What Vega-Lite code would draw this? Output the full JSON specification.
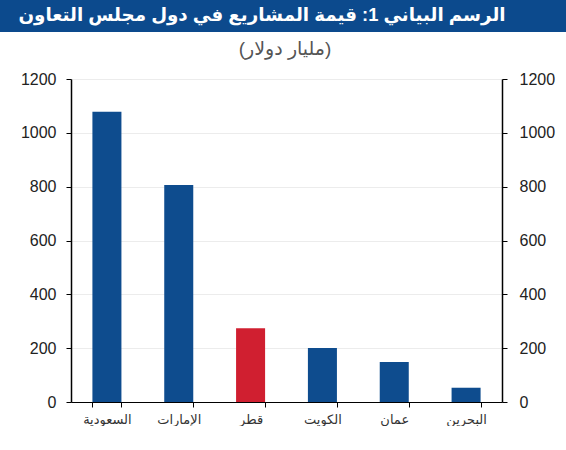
{
  "$schema": "https://vega.github.io/schema/vega-lite/v6.json",
  "padding": 0,
  "spacing": 8,
  "background": "white",
  "config": {
    "view": {"stroke": null},
    "font": "Liberation Sans, DejaVu Sans",
    "axis": {"labelFont": "Liberation Sans, DejaVu Sans"}
  },
  "vconcat": [
    {
      "width": 566,
      "height": 32,
      "view": {"fill": "#0c4a8d", "stroke": null},
      "data": {"values": [{"t": "الرسم البياني 1: قيمة المشاريع في دول مجلس التعاون"}]},
      "mark": {"type": "text", "color": "white", "fontSize": 18.3, "fontWeight": "bold", "baseline": "middle", "dx": -21},
      "encoding": {"text": {"field": "t"}}
    },
    {
      "width": 502,
      "height": 323,
      "title": {"text": "(مليار دولار)", "fontSize": 19, "fontWeight": "normal", "color": "#555555", "offset": 12, "dx": 34},
      "data": {
        "values": [
          {"country": "السعودية", "value": 1078},
          {"country": "الإمارات", "value": 806},
          {"country": "قطر", "value": 274},
          {"country": "الكويت", "value": 201},
          {"country": "عمان", "value": 149},
          {"country": "البحرين", "value": 53}
        ]
      },
      "encoding": {
        "x": {
          "field": "country",
          "type": "nominal",
          "sort": null,
          "scale": {"range": [71, 502], "paddingInner": 0.596, "paddingOuter": 0.298},
          "axis": {
            "title": null,
            "labelAngle": 0,
            "labelFontSize": 13,
            "labelColor": "#333333",
            "labelPadding": 6,
            "tickBand": "extent",
            "tickSize": 5,
            "tickColor": "#000000",
            "domainColor": "#000000",
            "grid": false
          }
        },
        "y": {
          "field": "value",
          "type": "quantitative",
          "scale": {"domain": [0, 1200], "nice": false}
        }
      },
      "layer": [
        {
          "mark": {"type": "bar"},
          "encoding": {
            "y": {
              "field": "value",
              "type": "quantitative",
              "axis": {
                "orient": "left",
                "offset": -71,
                "title": null,
                "format": "d",
                "values": [0, 200, 400, 600, 800, 1000, 1200],
                "labelFontSize": 16,
                "labelColor": "#222222",
                "labelPadding": 10,
                "tickSize": 5,
                "tickColor": "#000000",
                "domainColor": "#000000",
                "domainWidth": 1.5,
                "grid": true,
                "gridColor": "#ececec"
              }
            },
            "color": {
              "condition": {"test": "datum.country === 'قطر'", "value": "#d01f30"},
              "value": "#0e4c8e"
            }
          }
        },
        {
          "mark": {"type": "bar", "opacity": 0},
          "encoding": {
            "y": {
              "field": "value",
              "type": "quantitative",
              "axis": {
                "orient": "right",
                "title": null,
                "format": "d",
                "values": [0, 200, 400, 600, 800, 1000, 1200],
                "labelFontSize": 16,
                "labelColor": "#222222",
                "labelPadding": 12,
                "tickSize": 5,
                "tickColor": "#000000",
                "domainColor": "#000000",
                "domainWidth": 1.5,
                "grid": false
              }
            }
          }
        }
      ],
      "resolve": {"axis": {"y": "independent"}}
    }
  ]
}
